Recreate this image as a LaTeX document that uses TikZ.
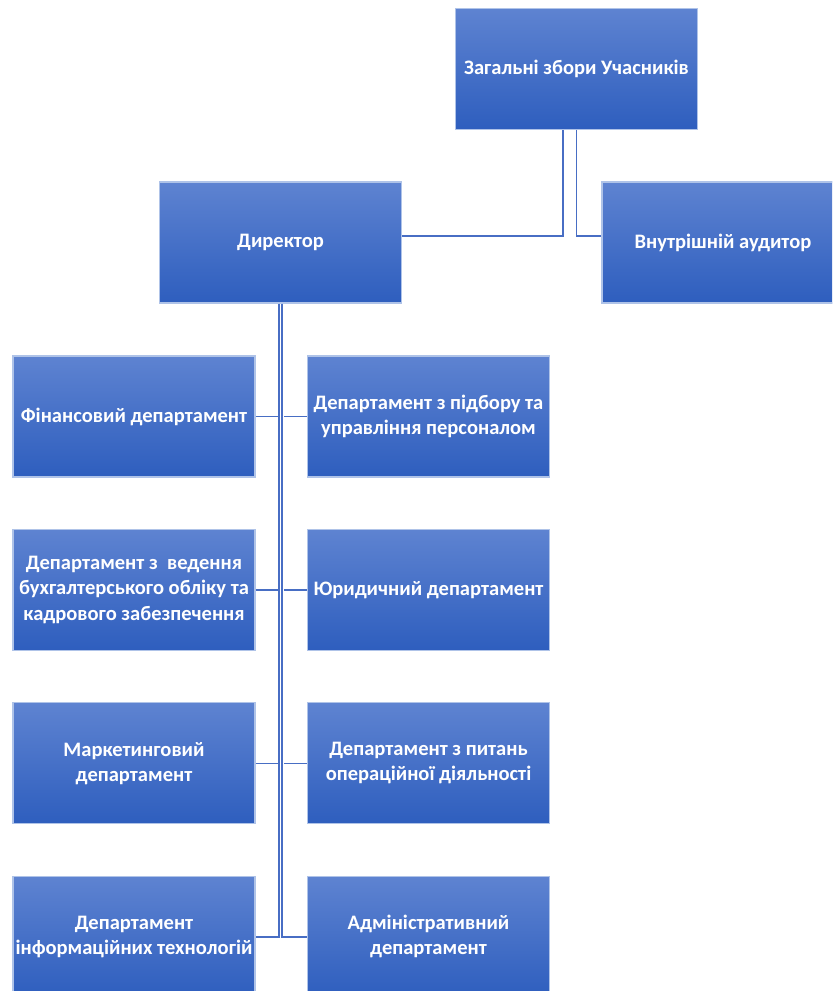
\documentclass[tikz,border=0pt]{standalone}
\usepackage{fontspec}
\setmainfont{Carlito}
\usetikzlibrary{positioning}

\definecolor{boxtop}{RGB}{94,131,209}
\definecolor{boxbot}{RGB}{46,94,190}
\definecolor{boxedge}{RGB}{175,195,232}
\definecolor{linkblue}{RGB}{72,110,196}

\tikzset{
  unitbox/.style={rectangle, top color=boxtop, bottom color=boxbot, draw=boxedge, line width=0.8pt,
    minimum width=181.5pt, minimum height=90.75pt, text=white, align=center,
    font=\fontsize{15.4}{18.8}\selectfont\bfseries, inner sep=0pt},
  link/.style={draw=linkblue, line width=1.3pt}
}

\begin{document}
\begin{tikzpicture}[x=0.75pt,y=-0.75pt,node distance=130.1pt]

\clip (0,0) rectangle (832,991);

\node[unitbox] (meeting) at (576.5,69) {Загальні збори Учасників};
\node[unitbox] (director) at (280.5,242.5) {Директор};
\node[unitbox] (auditor) at (723,242.5) {Внутрішній аудитор};

% left column
\node[unitbox] (finance) at (134,416.5) {Фінансовий департамент};
\node[unitbox] (account) [below of=finance] {Департамент з\ \ ведення\\бухгалтерського обліку та\\кадрового забезпечення};
\node[unitbox] (market) [below of=account] {Маркетинговий\\департамент};
\node[unitbox] (itdept) [below of=market] {Департамент\\інформаційних технологій};

% right column
\node[unitbox] (staff) at (428.5,416.5) {Департамент з підбору та\\управління персоналом};
\node[unitbox] (legal) [below of=staff] {Юридичний департамент};
\node[unitbox] (operat) [below of=legal] {Департамент з питань\\операційної діяльності};
\node[unitbox] (admin) [below of=operat] {Адміністративний\\департамент};

% links from the meeting
\draw[link] ([xshift=-10pt]meeting.south) |- ([yshift=5pt]director.east);
\draw[link] (meeting.south) |- ([yshift=5pt]auditor.west);

% director spine
\draw[link] ([xshift=-1.3pt]director.south) |- (itdept.east);
\draw[link] ([xshift=1.3pt]director.south) |- (admin.west);
\foreach \dept in {finance,account,market}
  \draw[link] (\dept.east) -- (\dept.east -| 280,0);
\foreach \dept in {staff,legal,operat}
  \draw[link] (\dept.west) -- (\dept.west -| 284,0);

\end{tikzpicture}
\end{document}
